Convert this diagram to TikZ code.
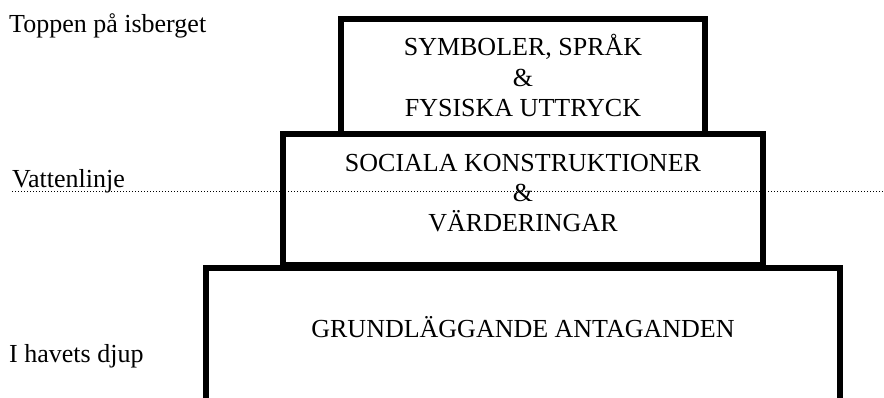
\documentclass[tikz,border=0pt]{standalone}
\usepackage{fontspec}
\setmainfont{Liberation Serif}
\usetikzlibrary{positioning}

\begin{document}
\begin{tikzpicture}[x=1pt, y=-1pt,
	box/.style={draw, line width=6pt, inner sep=0pt},
	txt/.style={font=\fontsize{26}{30}\selectfont, inner sep=0pt, anchor=base},
	side/.style={txt, anchor=base west}]
	\useasboundingbox (0,0) rectangle (884,398);
	% water line
	\coordinate (w1) at (12,192);
	\coordinate (w2) at (884,192);
	\draw[line width=1pt, dash pattern=on 1pt off 2pt] (w1) -- (w2);
	% the three levels
	\node[box, minimum width=364, minimum height=115.5] (topp) at (523,76.75) {};
	\node[box, minimum width=480, minimum height=130.5] (mitt) at (523,199.75) {};
	\coordinate (b1) at (206,410);
	\coordinate (b2) at (206,268);
	\coordinate (b3) at (840,268);
	\coordinate (b4) at (840,410);
	\draw[line width=6pt] (b1) -- (b2) -- (b3) -- (b4);
	% texts
	\node[txt] (t1) at (523,56) {SYMBOLER, SPRÅK};
	\node[txt] (t2) at (523,87) {\&};
	\node[txt] (t3) at (523,117) {FYSISKA UTTRYCK};
	\node[txt] (m1) at (523,172) {SOCIALA KONSTRUKTIONER};
	\node[txt] (m2) at (523,202) {\&};
	\node[txt] (m3) at (523,232) {VÄRDERINGAR};
	\node[txt] (g1) at (523,337) {GRUNDLÄGGANDE ANTAGANDEN};
	% labels on the left
	\node[side] (l1) at (9,33) {Toppen på isberget};
	\node[side] (l2) at (12,188) {Vattenlinje};
	\node[side] (l3) at (9,362) {I havets djup};
\end{tikzpicture}
\end{document}
